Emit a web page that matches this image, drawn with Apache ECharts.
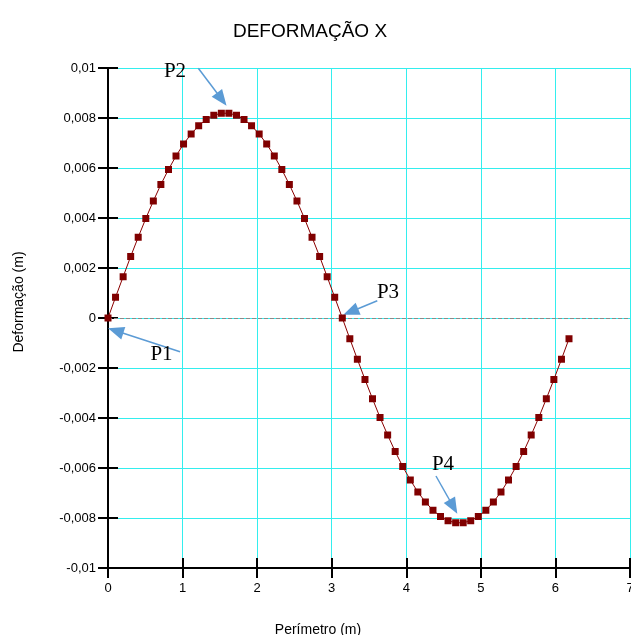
<!DOCTYPE html>
<html>
<head>
<meta charset="utf-8">
<script src="https://cdn.jsdelivr.net/npm/echarts@6/dist/echarts.min.js"></script>
<style>
  html, body { margin: 0; padding: 0; background: #fff; }
  #chart { width: 631px; height: 635px; }
</style>
</head>
<body>
<div id="chart"></div>
<script>
// Perimeter positions (m) of the measured points
const perimetro = [
  0, 0.101, 0.203, 0.304, 0.405, 0.507, 0.608, 0.709, 0.811, 0.912,
  1.013, 1.115, 1.216, 1.317, 1.419, 1.520, 1.621, 1.723, 1.824, 1.925,
  2.027, 2.128, 2.230, 2.331, 2.432, 2.534, 2.635, 2.736, 2.838, 2.939,
  3.040, 3.142, 3.243, 3.344, 3.446, 3.547, 3.648, 3.750, 3.851, 3.952,
  4.054, 4.155, 4.256, 4.358, 4.459, 4.560, 4.662, 4.763, 4.864, 4.966,
  5.067, 5.168, 5.270, 5.371, 5.473, 5.574, 5.675, 5.777, 5.878, 5.979,
  6.081, 6.182
];

// Deformation X (m) at each point
const deformacao = [
  0, 0.00083, 0.00165, 0.00246, 0.00323, 0.00398, 0.00468, 0.00534, 0.00594, 0.00648,
  0.00696, 0.00736, 0.00769, 0.00794, 0.00811, 0.00819, 0.00819, 0.00811, 0.00794, 0.00769,
  0.00736, 0.00696, 0.00648, 0.00594, 0.00534, 0.00468, 0.00398, 0.00323, 0.00246, 0.00165,
  0.00083, 0, -0.00083, -0.00165, -0.00246, -0.00323, -0.00398, -0.00468, -0.00534, -0.00594,
  -0.00648, -0.00696, -0.00736, -0.00769, -0.00794, -0.00811, -0.00819, -0.00819, -0.00811, -0.00794,
  -0.00769, -0.00736, -0.00696, -0.00648, -0.00594, -0.00534, -0.00468, -0.00398, -0.00323, -0.00246,
  -0.00165, -0.00083
];

// Point callouts: label, label position, arrow tail, arrow tip (axis units)
const pontosNomes = ['P1', 'P2', 'P3', 'P4'];
const pontosTexto = [[0.717, -0.00144], [0.898, 0.00988], [3.755, 0.00104], [4.492, -0.00584]];
const setasInicio = [[0.966, -0.00135], [1.211, 0.00999], [3.611, 0.00069], [4.398, -0.00632]];
const setasFim = [[0.103, -0.00051], [1.525, 0.00875], [3.255, 0.00025], [4.631, -0.00755]];

const fonte = '"Liberation Sans", Arial, sans-serif';
const ciano = '#33eeee';

function fmtY(v) {
  if (Math.abs(v) < 1e-12) return '0';
  return String(+v.toFixed(3)).replace('.', ',');
}

const chart = echarts.init(document.getElementById('chart'));

const serie = perimetro.map((x, i) => [x, deformacao[i]]);

chart.setOption({
  animation: false,
  backgroundColor: '#fff',
  title: {
    text: 'DEFORMAÇÃO X',
    left: 305,
    textAlign: 'center',
    top: 17,
    textStyle: { fontFamily: fonte, fontSize: 19, fontWeight: 'normal', color: '#000' }
  },
  grid: { left: 108, right: 1, top: 68, bottom: 67, containLabel: false, outerBoundsMode: 'none' },
  xAxis: [
    {
      type: 'value', min: 0, max: 7, interval: 1,
      name: 'Perímetro (m)', nameLocation: 'middle', nameGap: 55,
      nameTextStyle: { fontFamily: fonte, fontSize: 14, color: '#000', padding: [0, 102, 0, 0] },
      axisLine: { onZero: false, lineStyle: { color: '#000', width: 2 } },
      axisTick: { show: true, inside: false, length: 10, lineStyle: { color: '#000', width: 2 } },
      axisLabel: { fontFamily: fonte, fontSize: 13, color: '#000', margin: 14 },
      splitLine: { show: true, lineStyle: { color: ciano, width: 1 } }
    },
    {
      type: 'value', min: 0, max: 7, interval: 1, position: 'bottom',
      axisLine: { show: false, onZero: false },
      axisTick: { show: true, inside: true, length: 10, lineStyle: { color: '#000', width: 2 } },
      axisLabel: { show: false },
      splitLine: { show: false }
    }
  ],
  yAxis: [
    {
      type: 'value', min: -0.01, max: 0.01, interval: 0.002,
      name: 'Deformação (m)', nameLocation: 'middle', nameGap: 82,
      nameTextStyle: { fontFamily: fonte, fontSize: 14, color: '#000', padding: [0, 0, 0, 32] },
      axisLine: { onZero: false, lineStyle: { color: '#000', width: 2 } },
      axisTick: { show: true, inside: false, length: 10, lineStyle: { color: '#000', width: 2 } },
      axisLabel: { fontFamily: fonte, fontSize: 13, color: '#000', margin: 12, formatter: fmtY },
      splitLine: { show: true, lineStyle: { color: ciano, width: 1 } }
    },
    {
      type: 'value', min: -0.01, max: 0.01, interval: 0.002, position: 'left',
      axisLine: { show: false, onZero: false },
      axisTick: { show: true, inside: true, length: 10, lineStyle: { color: '#000', width: 2 } },
      axisLabel: { show: false },
      splitLine: { show: false }
    }
  ],
  series: [
    {
      type: 'line',
      data: serie,
      xAxisIndex: 0, yAxisIndex: 0,
      symbol: 'rect', symbolSize: 7,
      lineStyle: { color: '#8b0000', width: 1 },
      itemStyle: { color: '#800000' },
      z: 5,
      markLine: {
        silent: true, symbol: ['none', 'none'],
        label: { show: false },
        lineStyle: { color: '#8a8a8a', type: [4, 2], width: 1 },
        data: [{ yAxis: 0 }]
      }
    },
    {
      type: 'line',
      data: [],
      xAxisIndex: 0, yAxisIndex: 0,
      clip: false,
      z: 6,
      markLine: {
        silent: true,
        clip: false,
        symbol: ['none', 'triangle'],
        symbolSize: [13, 16],
        label: { show: false },
        lineStyle: { color: '#5b9bd5', width: 1.5, type: 'solid' },
        data: setasInicio.map((p, i) => [{ coord: p }, { coord: setasFim[i] }])
      },
      markPoint: {
        silent: true,
        clip: false,
        symbol: 'rect', symbolSize: 1,
        itemStyle: { color: 'rgba(0,0,0,0)' },
        label: {
          show: true, position: 'inside',
          fontFamily: '"Liberation Serif", "Times New Roman", serif',
          fontSize: 21, color: '#000'
        },
        data: pontosNomes.map((n, i) => ({ coord: pontosTexto[i], value: n, label: { formatter: n } }))
      }
    }
  ]
});
</script>
</body>
</html>
